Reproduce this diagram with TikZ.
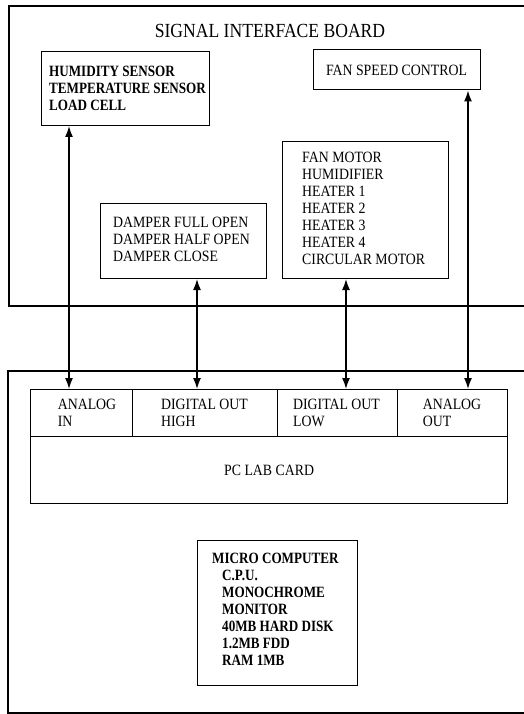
\documentclass[tikz,border=0pt]{standalone}
\usepackage{fontspec}
\setmainfont{Liberation Serif}[FakeStretch=0.88]
\newfontfamily\boldish{Liberation Serif Bold}[FakeStretch=0.835]
\usetikzlibrary{arrows.meta}
\newcommand\ftxt{\fontsize{15.7}{17}\selectfont}
\newcommand\fbtxt{\boldish\fontsize{15.7}{17}\selectfont}
\newcommand\ftitle{\fontsize{20}{24}\selectfont}
\begin{document}
\begin{tikzpicture}[x=1pt,y=-1pt,
  frame/.style={draw, line width=1.6pt, inner sep=0pt, anchor=north west},
  box/.style={draw, line width=1pt, inner sep=0pt, anchor=north west},
  cell/.style={draw, line width=1.2pt, inner sep=0pt, anchor=north west, minimum height=47pt},
  txt/.style={inner sep=0pt, anchor=north west, align=left, font=\ftxt},
  btxt/.style={inner sep=0pt, anchor=north west, align=left, font=\fbtxt},
  ctxt/.style={inner sep=0pt, align=left, font=\ftxt},
  arr/.style={line width=1.5pt, {Latex[length=11pt,width=8pt]}-{Latex[length=11pt,width=8pt]}}
]
\useasboundingbox (0,0) rectangle (524,714);
% signal interface board
\node[frame, minimum width=540pt, minimum height=300pt] (sib) at (8,5) {};
\node[font=\ftitle, inner sep=0pt] (title) at (270,31) {SIGNAL INTERFACE BOARD};
\node[box, minimum width=168pt, minimum height=74pt] (sensor) at (41,51) {};
\node[btxt] (sensortxt) at (49,66) {HUMIDITY SENSOR\\TEMPERATURE SENSOR\\LOAD CELL};
\node[box, anchor=center, minimum width=167pt, minimum height=40pt, font=\ftxt] (fsc) at (396.5,70) {FAN SPEED CONTROL};
\node[box, minimum width=166pt, minimum height=137pt] (motor) at (282,141) {};
\node[txt] (motortxt) at (302,152) {FAN MOTOR\\HUMIDIFIER\\HEATER 1\\HEATER 2\\HEATER 3\\HEATER 4\\CIRCULAR MOTOR};
\node[box, minimum width=166pt, minimum height=75pt] (damper) at (100,203) {};
\node[txt] (dampertxt) at (113,217) {DAMPER FULL OPEN\\DAMPER HALF OPEN\\DAMPER CLOSE};
% computer
\node[frame, minimum width=540pt, minimum height=342pt] (pc) at (7,370) {};
\node[cell, minimum width=102pt] (ai) at (30,389) {};
\node[cell, minimum width=145pt] (doh) at (132,389) {};
\node[cell, minimum width=120pt] (dol) at (277,389) {};
\node[cell, minimum width=110pt] (ao) at (397,389) {};
\node[cell, minimum width=477pt, minimum height=67pt] (card) at (30,436) {};
\node[font=\ftxt, inner sep=0pt] (cardtxt) at (card.center) {PC LAB CARD};
\node[ctxt] (aitxt) at (87,413) {ANALOG\\IN};
\node[ctxt] (dohtxt) at (204.5,413) {DIGITAL OUT\\HIGH};
\node[ctxt] (doltxt) at (336.5,413) {DIGITAL OUT\\LOW};
\node[ctxt] (aotxt) at (452,413) {ANALOG\\OUT};
\node[box, minimum width=160pt, minimum height=145pt] (micro) at (197,540) {};
\node[btxt] (microtxt) at (212,553) {MICRO COMPUTER\\\hspace*{10pt}C.P.U.\\\hspace*{10pt}MONOCHROME\\\hspace*{10pt}MONITOR\\\hspace*{10pt}40MB HARD DISK\\\hspace*{10pt}1.2MB FDD\\\hspace*{10pt}RAM 1MB};
% connectors
\path (ai.north west) ++(39,0) coordinate (p1);
\path (doh.north west) ++(65,0) coordinate (p2);
\path (dol.north west) ++(69,0) coordinate (p3);
\path (ao.north west) ++(71,0) coordinate (p4);
\draw[arr] (p1 |- sensor.south) -- (p1);
\draw[arr] (p2 |- damper.south) -- (p2);
\draw[arr] (p3 |- motor.south) -- (p3);
\draw[arr] (p4 |- fsc.south) -- (p4);
\end{tikzpicture}
\end{document}
